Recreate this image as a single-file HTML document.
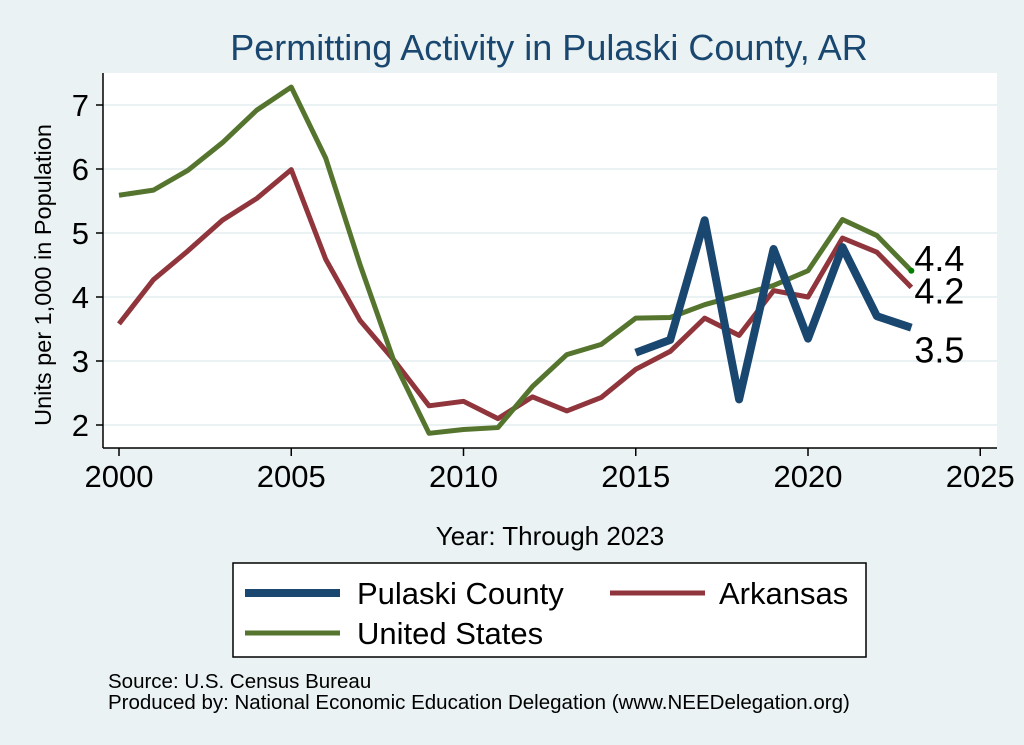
<!DOCTYPE html>
<html><head><meta charset="utf-8"><style>
body{margin:0;background:#eaf2f3;font-family:"Liberation Sans",Arial,sans-serif;}
svg{display:block}
</style></head><body>
<svg width="1024" height="745">
<rect x="0" y="0" width="1024" height="745" fill="#eaf2f3"/>
<text x="549" y="60" font-size="36" fill="#1a476f" text-anchor="middle">Permitting Activity in Pulaski County, AR</text>
<rect x="103" y="73" width="894" height="375" fill="#fff"/>
<g id="grid"></g>
<g id="series"></g>
<g id="axes"></g>
<text x="51" y="275" font-size="23.5" fill="#000" text-anchor="middle" transform="rotate(-90 51 275)">Units per 1,000 in Population</text>
<text x="550" y="545" font-size="26" fill="#000" text-anchor="middle">Year: Through 2023</text>
<g>
<rect x="233" y="563" width="633" height="94" fill="#fff" stroke="#000" stroke-width="1.5"/>
<line x1="245" y1="593" x2="340" y2="593" stroke="#1a476f" stroke-width="8"/>
<text x="357" y="604" font-size="31">Pulaski County</text>
<line x1="610" y1="593" x2="705" y2="593" stroke="#90353b" stroke-width="5"/>
<text x="719" y="604" font-size="31">Arkansas</text>
<line x1="245" y1="633" x2="340" y2="633" stroke="#55752f" stroke-width="5"/>
<text x="357" y="644" font-size="31">United States</text>
</g>
<text x="108" y="688" font-size="20.5">Source: U.S. Census Bureau</text>
<text x="108" y="709" font-size="20.5">Produced by: National Economic Education Delegation (www.NEEDelegation.org)</text>
</svg>
<script>
const years=[2000,2001,2002,2003,2004,2005,2006,2007,2008,2009,2010,2011,2012,2013,2014,2015,2016,2017,2018,2019,2020,2021,2022,2023];
const usVals=[5.59,5.67,5.98,6.41,6.92,7.28,6.17,4.5,2.97,1.87,1.93,1.96,2.6,3.1,3.26,3.67,3.68,3.88,4.03,4.18,4.41,5.21,4.96,4.41];
const arVals=[3.58,4.27,4.72,5.2,5.54,5.99,4.59,3.63,3.0,2.3,2.37,2.1,2.44,2.22,2.43,2.87,3.15,3.67,3.4,4.1,4.0,4.92,4.7,4.15];
const pulYears=[2015,2016,2017,2018,2019,2020,2021,2022,2023];
const pulVals=[3.13,3.33,5.2,2.4,4.75,3.35,4.78,3.7,3.52];
const xTicks=[2000,2005,2010,2015,2020,2025];
const yTicks=[2,3,4,5,6,7];
const NS="http://www.w3.org/2000/svg";
const X=v=>119+(v-2000)*34.45;
const Y=v=>425-(v-2)*64;
function mk(t,a,p){const e=document.createElementNS(NS,t);for(const k in a)e.setAttribute(k,a[k]);p.appendChild(e);return e;}
const grid=document.getElementById('grid'),axes=document.getElementById('axes'),ser=document.getElementById('series');
yTicks.forEach(v=>{
 const g=mk('line',{x1:103,x2:997,y1:Y(v),y2:Y(v),stroke:'#eaf2f3','stroke-width':2},grid);
 
 
 const t=mk('line',{x1:96,x2:103,y1:Y(v),y2:Y(v),stroke:'#000','stroke-width':1.5},axes);
 
 
 const l=mk('text',{x:89,y:Y(v)+11,'font-size':31,'text-anchor':'end'},axes);l.textContent=v;
 
 
});
xTicks.forEach(v=>{
 const t=mk('line',{x1:X(v),x2:X(v),y1:448,y2:456,stroke:'#000','stroke-width':1.5},axes);
 
 
 const l=mk('text',{x:X(v),y:487,'font-size':31,'text-anchor':'middle'},axes);l.textContent=v;
 
 
});
const ya=mk('line',{x1:103,x2:103,y1:73,y2:448,stroke:'#000','stroke-width':1.5},axes);


const xa=mk('line',{x1:103,x2:997,y1:448,y2:448,stroke:'#000','stroke-width':1.5},axes);


function line(xs,vs,col,w,name){
 const p=mk('polyline',{points:xs.map((x,i)=>X(x)+','+Y(vs[i])).join(' '),fill:'none',stroke:col,'stroke-width':w,'stroke-linejoin':'round'},ser);
 
 
}
line(years,arVals,'#90353b',5,'line-arkansas');
line(years,usVals,'#55752f',5,'line-united-states');
line(pulYears,pulVals,'#1a476f',8,'line-pulaski-county');
const d=mk('circle',{cx:X(2023),cy:Y(usVals[usVals.length-1]),r:3,fill:'#008000'},ser);


[[usVals[usVals.length-1],0,'us'],[arVals[arVals.length-1],16,'arkansas'],[pulVals[pulVals.length-1],35,'pulaski']].forEach(([v,dy,n])=>{
 const t=mk('text',{x:X(2023)+3,y:Y(v)+dy,'font-size':36},ser);t.textContent=v.toFixed(1);
 
 
});
</script>
</body></html>
